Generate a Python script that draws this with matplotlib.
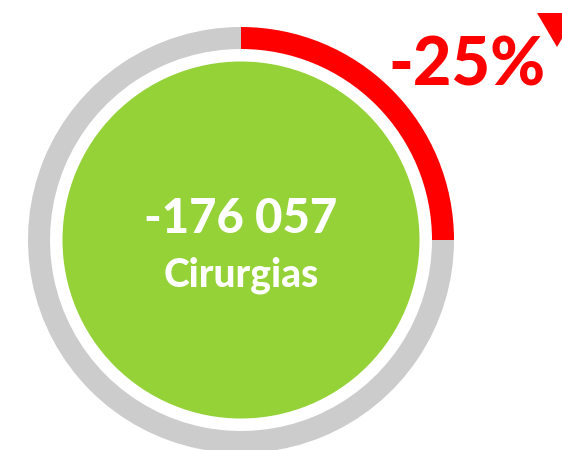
#!/usr/bin/env python3
"""Donut gauge: change in surgeries (Cirurgias) vs previous period."""

import matplotlib
matplotlib.use("Agg")
from matplotlib import pyplot as plt
from matplotlib.patches import Wedge, Circle, Polygon

# data
change_pct = [-25]
change_abs = [-176057]
labels = ["Cirurgias"]

GRAY = "#CCCCCC"
RED = "#FF0000"
GREEN = "#94D237"
FONT = ["Lato", "DejaVu Sans"]

W, H = 562, 450
fig = plt.figure(figsize=(W / 100, H / 100), dpi=100)
ax = fig.add_axes([0, 0, 1, 1])
ax.set_xlim(0, W)
ax.set_ylim(H, 0)
ax.axis("off")

cx, cy = 241, 240
r_out, ring_w = 213, 22

share = abs(change_pct[0]) / 100.0
# y axis is inverted, so angles run clockwise on screen
start = -90
end = start + 360 * share
ax.add_patch(Wedge((cx, cy), r_out, end, start + 360, width=ring_w, color=GRAY, lw=0))
ax.add_patch(Wedge((cx, cy), r_out, start, end, width=ring_w, color=RED, lw=0))
ax.add_patch(Circle((cx, cy), 178.5, color=GREEN, lw=0))

num_txt = f"{change_abs[0]:,}".replace(",", " ")
ax.text(cx, 233, num_txt, ha="center", va="baseline", color="white",
        fontsize=34, fontweight=900, family=FONT)
ax.text(cx, 287, labels[0], ha="center", va="baseline", color="white",
        fontsize=28, fontweight=900, family=FONT)

ax.text(467, 85, f"{change_pct[0]}%", ha="center", va="baseline", color=RED,
        fontsize=48, fontweight=900, family=FONT)
ax.add_patch(Polygon([(537, 13), (577, 13), (557, 47)], closed=True, color=RED, lw=0))

fig.savefig("out.png", dpi=100)
